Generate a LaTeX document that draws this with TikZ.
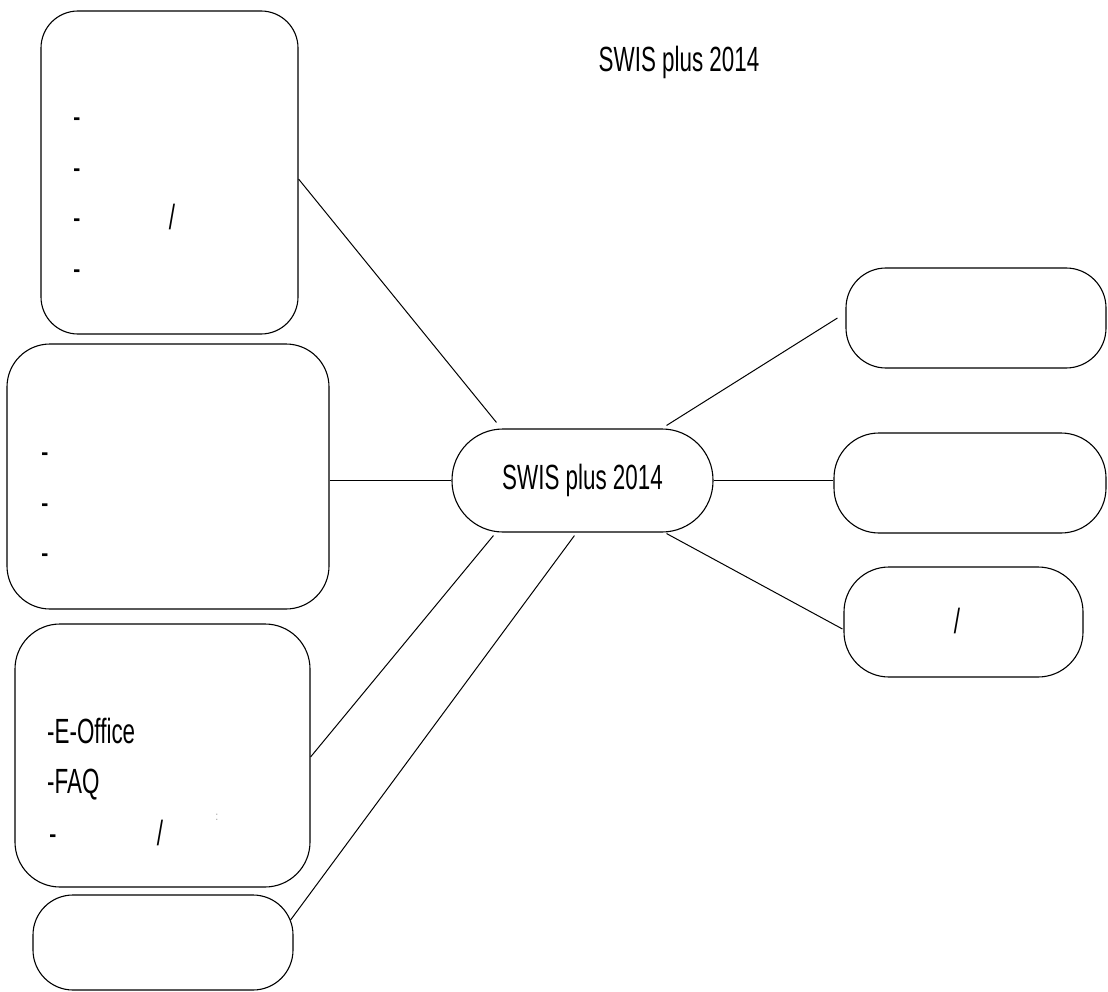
\documentclass[tikz,border=0pt]{standalone}
\usepackage{fontspec}
\setmainfont[FakeStretch=0.64]{Liberation Sans}
\usepackage{tikz}
\usepackage{xcolor}
\usetikzlibrary{positioning}

\begin{document}
\begin{tikzpicture}[x=1pt,y=1pt]
\tikzstyle{every node}+=[inner sep=0pt]
\tikzstyle{box}=[draw=black, line width=1.1pt, fill=white]
\tikzstyle{txt}=[anchor=base west, font=\fontsize{35}{40}\selectfont]
\tikzstyle{sl}=[anchor=base, font=\fontsize{35}{40}\selectfont]
\useasboundingbox (0,0) rectangle (1108,-992);
% title
\node [sl] (title) at (679,-72) {SWIS plus 2014};
% boxes
\node [box, minimum width=257pt, minimum height=323pt, rounded corners=37pt] (A) at (169.5,-172.5) {};
\node [box, minimum width=322pt, minimum height=265pt, rounded corners=43pt] (B) at (168,-476.5) {};
\node [box, minimum width=295pt, minimum height=263pt, rounded corners=45pt] (C) at (162.5,-755.5) {};
\node [box, minimum width=260pt, minimum height=95pt, rounded corners=40pt] (D) at (163,-942.5) {};
\node [box, minimum width=261pt, minimum height=103pt, rounded corners=51pt, font=\fontsize{35}{40}\selectfont] (hub) at (582.5,-480.5) {SWIS plus 2014};
\node [box, minimum width=260pt, minimum height=100pt, rounded corners=40pt] (R1) at (976,-318) {};
\node [box, minimum width=272pt, minimum height=100pt, rounded corners=45pt] (R2) at (970,-483) {};
\node [box, minimum width=239pt, minimum height=110pt, rounded corners=45pt] (R3) at (963.5,-622) {};
% texts in boxes
\node [txt] (a1) at (73,-129) {-};
\node [txt] (a2) at (73,-180) {-};
\node [txt] (a3) at (73,-230) {-};
\node [txt] (a4) at (73,-280) {-};
\node [sl] (a5) at (172,-230) {/};
\node [txt] (b1) at (41,-463) {-};
\node [txt] (b2) at (41,-514) {-};
\node [txt] (b3) at (41,-564) {-};
\node [txt] (c1) at (47,-743) {-E-Office};
\node [txt] (c2) at (47,-793) {-FAQ};
\node [txt] (c3) at (49,-845) {-};
\node [sl] (c4) at (160,-845) {/};
\node [font=\fontsize{12}{12}\selectfont, text=gray] (c5) at (217,-817) {:};
\node [sl] (r3) at (957,-633) {/};
% connectors
\draw [line width=1pt] ([yshift=-6.5pt]A.east) -- ([xshift=45pt,yshift=6pt]hub.north west);
\draw [line width=1pt] (B.east |- hub.west) -- (hub.west);
\draw [line width=1pt] ([yshift=-1.5pt]C.east) -- ([xshift=42pt,yshift=-3pt]hub.south west);
\draw [line width=1pt] ([xshift=-3pt,yshift=22.5pt]D.east) -- ([xshift=123pt,yshift=-3pt]hub.south west);
\draw [line width=1pt] ([xshift=-47pt,yshift=3pt]hub.north east) -- ([xshift=-8pt]R1.west);
\draw [line width=1pt] (hub.east) -- (R2.west |- hub.east);
\draw [line width=1pt] ([xshift=-47pt,yshift=-1pt]hub.south east) -- ([xshift=-1pt,yshift=-7pt]R3.west);
\end{tikzpicture}
\end{document}
